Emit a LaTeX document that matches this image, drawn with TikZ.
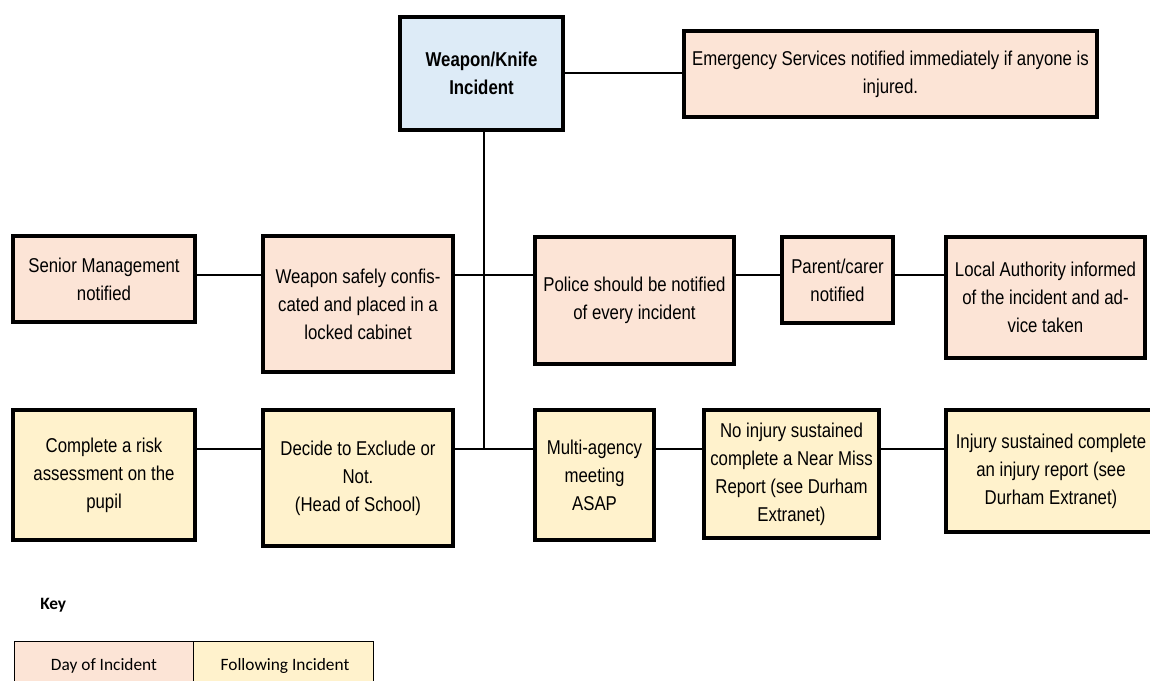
\documentclass[tikz,border=0pt]{standalone}
\usepackage{fontspec}
\setmainfont{Liberation Sans}[FakeStretch=0.84]
\newfontfamily\keyfont{Carlito}
\definecolor{peach}{RGB}{252,228,214}
\definecolor{cream}{RGB}{255,242,204}
\definecolor{paleblue}{RGB}{221,235,247}
\newcommand\mkbox[7]{\node[#6, minimum width={(#4-#2)*0.75pt}, minimum height={(#5-#3)*0.75pt}] (#1) at ({(#2+#4)/2},{(#3+#5)/2}) {#7};}
\tikzset{
  box/.style={draw=black, line width=2.6pt, inner sep=0pt, align=center, font={\fontsize{15}{21}\selectfont}},
  dayb/.style={box, fill=peach},
  follb/.style={box, fill=cream},
  topb/.style={box, fill=paleblue, font={\fontsize{15}{21}\selectfont\bfseries}},
  link/.style={draw=black, line width=1.6pt},
  keycell/.style={draw=black, line width=1pt, inner sep=0pt, font={\keyfont\fontsize{13}{15}\selectfont}}
}
\begin{document}
\begin{tikzpicture}[x=0.75pt,y=-0.75pt]
\useasboundingbox (0,0) rectangle (1150,681);
% top row
\mkbox{wk}{400}{17}{563}{130}{topb}{Weapon/Knife\\Incident}
\mkbox{em}{684}{31}{1097}{117}{dayb}{Emergency Services notified immediately if anyone is\\injured.}
% second row
\mkbox{sm}{13}{236}{195}{322}{dayb}{Senior Management\\notified}
\mkbox{ws}{263}{236}{453}{372}{dayb}{Weapon safely confis-\\cated and placed in a\\locked cabinet}
\mkbox{po}{535}{237}{734}{364}{dayb}{Police should be notified\\of every incident}
\mkbox{pc}{782}{237}{893}{323}{dayb}{Parent/carer\\notified}
\mkbox{la}{946}{237}{1145}{358}{dayb}{Local Authority informed\\of the incident and ad-\\vice taken}
% third row
\mkbox{cr}{13}{410}{195}{540}{follb}{Complete a risk\\assessment on the\\pupil}
\mkbox{de}{263}{410}{453}{546}{follb}{Decide to Exclude or\\Not.\\(Head of School)}
\mkbox{ma}{535}{410}{654}{540}{follb}{Multi-agency\\meeting\\ASAP}
\mkbox{ni}{704}{410}{879}{538}{follb}{No injury sustained\\complete a Near Miss\\Report (see Durham\\Extranet)}
\mkbox{is}{946}{410}{1156}{532}{follb}{Injury sustained complete\\an injury report (see\\Durham Extranet)}
% connector coordinates
\coordinate (r1) at (0,73);
\coordinate (r2) at (0,275);
\coordinate (r3) at (0,449);
\coordinate (j3) at (484,449);
% connectors
\draw[link] (wk.east |- r1) -- (em.west |- r1);
\draw[link] (wk.south -| j3) -- (j3);
\draw[link] (sm.east |- r2) -- (ws.west |- r2);
\draw[link] (ws.east |- r2) -- (po.west |- r2);
\draw[link] (po.east |- r2) -- (pc.west |- r2);
\draw[link] (pc.east |- r2) -- (la.west |- r2);
\draw[link] (cr.east |- r3) -- (de.west |- r3);
\draw[link] (de.east |- r3) -- (ma.west |- r3);
\draw[link] (ma.east |- r3) -- (ni.west |- r3);
\draw[link] (ni.east |- r3) -- (is.west |- r3);
% key
\node[font={\keyfont\bfseries\fontsize{13}{15}\selectfont}, anchor=west, inner sep=0pt] (keytitle) at (40,605) {Key};
\node[keycell, fill=peach, minimum width={179*0.75pt}, minimum height={60*0.75pt}, anchor=north west] (kday) at (14,641) {};
\node[keycell, fill=cream, minimum width={180*0.75pt}, minimum height={60*0.75pt}, anchor=north west] (kfol) at (193,641) {};
\node[font={\keyfont\fontsize{13}{15}\selectfont}, inner sep=0pt] (kdayt) at (104,666) {Day of Incident};
\node[font={\keyfont\fontsize{13}{15}\selectfont}, inner sep=0pt] (kfolt) at (285,666) {Following Incident};
\end{tikzpicture}
\end{document}
